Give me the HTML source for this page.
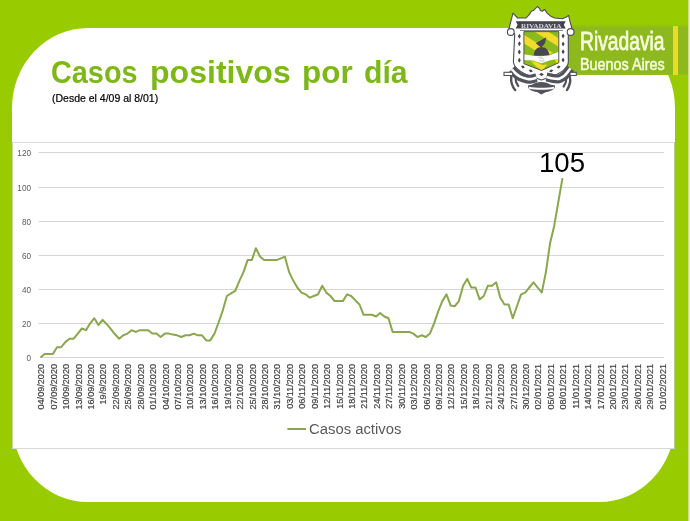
<!DOCTYPE html>
<html><head><meta charset="utf-8">
<style>
html,body{margin:0;padding:0;}
body{width:690px;height:521px;overflow:hidden;background:#99cc00;position:relative;font-family:"Liberation Sans",sans-serif;}
.panel{position:absolute;left:12px;top:28px;width:663px;height:474px;background:#fff;border-radius:76px / 80px;}
.chart{position:absolute;left:12px;top:142px;width:663px;height:307px;background:#fff;border-top:1px solid #d9d9d9;border-bottom:1px solid #d9d9d9;border-left:1px solid #c9d4a0;border-right:1px solid #bccb85;box-sizing:border-box;}
.title{position:absolute;top:54.4px;font-size:32px;font-weight:bold;color:#7eb71a;white-space:nowrap;transform-origin:0 0;line-height:37px;}
.sub{position:absolute;left:52px;top:92.8px;-webkit-text-stroke:0.2px #000;font-size:10.2px;color:#000;white-space:nowrap;line-height:11px;transform-origin:0 0;transform:scaleX(1.03);}
.logobox{position:absolute;left:566px;top:24px;width:122.3px;height:51px;background:linear-gradient(#99cc00 0px,#8db81e 4px,#8db81e 49px,#93c210 51px);}
.ybar{position:absolute;left:672.7px;top:26px;width:5.8px;height:49px;background:#efd826;}
.riv{position:absolute;left:580px;top:25.8px;font-size:25.8px;color:#f6fbdc;white-space:nowrap;line-height:30px;transform-origin:0 0;transform:scaleX(0.746);-webkit-text-stroke:0.8px #f6fbdc;}
.ba{position:absolute;left:580px;top:55.5px;font-size:15.9px;color:#f6fbdc;white-space:nowrap;line-height:18px;transform-origin:0 0;transform:scaleX(0.905);-webkit-text-stroke:0.5px #f6fbdc;}
svg{position:absolute;left:0;top:0;}
.big{position:absolute;left:539.2px;top:148.4px;font-size:26.8px;color:#000;line-height:31px;white-space:nowrap;transform-origin:0 0;transform:scaleX(1.03);}
.leg{position:absolute;left:308.5px;top:420.5px;font-size:14px;color:#595959;line-height:16px;white-space:nowrap;transform-origin:0 0;transform:scaleX(1.06);}
</style></head><body>
<div class="panel"></div>
<div class="chart"></div>
<div class="logobox"></div>
<div class="ybar"></div>
<div class="title" id="title" style="left:50.7px;transform:scaleX(0.901)">Casos</div><div class="title" style="left:149.6px;transform:scaleX(1.002)">positivos</div><div class="title" style="left:301.8px;transform:scaleX(0.982)">por</div><div class="title" style="left:364.1px;transform:scaleX(0.943)">día</div>
<div class="sub" id="sub">(Desde el 4/09 al 8/01)</div>
<div class="riv" id="riv">Rivadavia</div>
<div class="ba" id="ba">Buenos Aires</div>
<svg width="690" height="521" viewBox="0 0 690 521">
<g stroke="#d6d6d6" stroke-width="1"><line x1="39.8" x2="664" y1="357.5" y2="357.5"/><line x1="38.6" x2="664" y1="323.5" y2="323.5"/><line x1="38.6" x2="664" y1="289.5" y2="289.5"/><line x1="38.6" x2="664" y1="255.5" y2="255.5"/><line x1="38.6" x2="664" y1="221.5" y2="221.5"/><line x1="38.6" x2="664" y1="187.5" y2="187.5"/><line x1="38.6" x2="664" y1="152.5" y2="152.5"/></g>
<g font-family="Liberation Sans, sans-serif" font-size="8.2" fill="#595959" style="opacity:0.99"><text x="31" y="360.7" text-anchor="end">0</text><text x="31" y="326.7" text-anchor="end">20</text><text x="31" y="292.7" text-anchor="end">40</text><text x="31" y="258.7" text-anchor="end">60</text><text x="31" y="224.7" text-anchor="end">80</text><text x="31" y="190.7" text-anchor="end">100</text><text x="31" y="155.7" text-anchor="end">120</text></g>
<g font-family="Liberation Sans, sans-serif" font-size="9.1" fill="#404040" stroke="#404040" stroke-width="0.2" style="opacity:0.99"><text transform="translate(44.3,364) rotate(-90)" text-anchor="end">04/09/2020</text><text transform="translate(56.7,364) rotate(-90)" text-anchor="end">07/09/2020</text><text transform="translate(69.1,364) rotate(-90)" text-anchor="end">10/09/2020</text><text transform="translate(81.6,364) rotate(-90)" text-anchor="end">13/09/2020</text><text transform="translate(94.0,364) rotate(-90)" text-anchor="end">16/09/2020</text><text transform="translate(106.4,364) rotate(-90)" text-anchor="end">19/9/2020</text><text transform="translate(118.8,364) rotate(-90)" text-anchor="end">22/09/2020</text><text transform="translate(131.3,364) rotate(-90)" text-anchor="end">25/09/2020</text><text transform="translate(143.7,364) rotate(-90)" text-anchor="end">28/09/2020</text><text transform="translate(156.1,364) rotate(-90)" text-anchor="end">01/10/2020</text><text transform="translate(168.6,364) rotate(-90)" text-anchor="end">04/10/2020</text><text transform="translate(181.0,364) rotate(-90)" text-anchor="end">07/10/2020</text><text transform="translate(193.4,364) rotate(-90)" text-anchor="end">10/10/2020</text><text transform="translate(205.8,364) rotate(-90)" text-anchor="end">13/10/2020</text><text transform="translate(218.3,364) rotate(-90)" text-anchor="end">16/10/2020</text><text transform="translate(230.7,364) rotate(-90)" text-anchor="end">19/10/2020</text><text transform="translate(243.1,364) rotate(-90)" text-anchor="end">22/10/2020</text><text transform="translate(255.6,364) rotate(-90)" text-anchor="end">25/10/2020</text><text transform="translate(268.0,364) rotate(-90)" text-anchor="end">28/10/2020</text><text transform="translate(280.4,364) rotate(-90)" text-anchor="end">31/10/2020</text><text transform="translate(292.9,364) rotate(-90)" text-anchor="end">03/11/2020</text><text transform="translate(305.3,364) rotate(-90)" text-anchor="end">06/11/2020</text><text transform="translate(317.7,364) rotate(-90)" text-anchor="end">09/11/2020</text><text transform="translate(330.1,364) rotate(-90)" text-anchor="end">12/11/2020</text><text transform="translate(342.6,364) rotate(-90)" text-anchor="end">15/11/2020</text><text transform="translate(355.0,364) rotate(-90)" text-anchor="end">18/11/2020</text><text transform="translate(367.4,364) rotate(-90)" text-anchor="end">21/11/2020</text><text transform="translate(379.9,364) rotate(-90)" text-anchor="end">24/11/2020</text><text transform="translate(392.3,364) rotate(-90)" text-anchor="end">27/11/2020</text><text transform="translate(404.7,364) rotate(-90)" text-anchor="end">30/11/2020</text><text transform="translate(417.1,364) rotate(-90)" text-anchor="end">03/12/2020</text><text transform="translate(429.6,364) rotate(-90)" text-anchor="end">06/12/2020</text><text transform="translate(442.0,364) rotate(-90)" text-anchor="end">09/12/2020</text><text transform="translate(454.4,364) rotate(-90)" text-anchor="end">12/12/2020</text><text transform="translate(466.9,364) rotate(-90)" text-anchor="end">15/12/2020</text><text transform="translate(479.3,364) rotate(-90)" text-anchor="end">18/12/2020</text><text transform="translate(491.7,364) rotate(-90)" text-anchor="end">21/12/2020</text><text transform="translate(504.1,364) rotate(-90)" text-anchor="end">24/12/2020</text><text transform="translate(516.6,364) rotate(-90)" text-anchor="end">27/12/2020</text><text transform="translate(529.0,364) rotate(-90)" text-anchor="end">30/12/2020</text><text transform="translate(541.4,364) rotate(-90)" text-anchor="end">02/01/2021</text><text transform="translate(553.9,364) rotate(-90)" text-anchor="end">05/01/2021</text><text transform="translate(566.3,364) rotate(-90)" text-anchor="end">08/01/2021</text><text transform="translate(578.7,364) rotate(-90)" text-anchor="end">11/01/2021</text><text transform="translate(591.1,364) rotate(-90)" text-anchor="end">14/01/2021</text><text transform="translate(603.6,364) rotate(-90)" text-anchor="end">17/01/2021</text><text transform="translate(616.0,364) rotate(-90)" text-anchor="end">20/01/2021</text><text transform="translate(628.4,364) rotate(-90)" text-anchor="end">23/01/2021</text><text transform="translate(640.9,364) rotate(-90)" text-anchor="end">26/01/2021</text><text transform="translate(653.3,364) rotate(-90)" text-anchor="end">29/01/2021</text><text transform="translate(665.7,364) rotate(-90)" text-anchor="end">01/02/2021</text></g>
<polyline points="40.5,357.5 44.6,354.1 48.8,354.1 52.9,354.1 57.0,347.2 61.2,347.2 65.3,342.1 69.5,338.7 73.6,338.7 77.8,333.6 81.9,328.5 86.0,330.2 90.2,323.3 94.3,318.2 98.5,325.0 102.6,319.9 106.8,324.2 110.9,329.1 115.0,334.3 119.2,338.7 123.3,335.3 127.5,333.6 131.6,330.2 135.8,331.9 139.9,330.2 144.0,330.2 148.2,330.2 152.3,333.6 156.5,333.6 160.6,337.0 164.8,333.6 168.9,333.6 173.0,334.6 177.2,335.3 181.3,337.0 185.5,335.3 189.6,335.3 193.8,333.6 197.9,335.3 202.0,335.3 206.2,340.4 210.3,340.4 214.5,333.6 218.6,322.5 222.8,310.3 226.9,296.0 231.0,293.4 235.2,290.9 239.3,281.1 243.5,272.1 247.6,260.1 251.8,260.1 255.9,248.2 260.1,256.7 264.2,260.1 268.3,260.1 272.5,260.1 276.6,260.1 280.8,258.4 284.9,256.7 289.1,272.1 293.2,280.6 297.3,287.5 301.5,292.6 305.6,294.3 309.8,297.7 313.9,296.0 318.1,294.3 322.2,285.7 326.3,292.6 330.5,296.0 334.6,301.1 338.8,301.1 342.9,301.1 347.1,294.3 351.2,296.0 355.3,300.3 359.5,304.5 363.6,314.8 367.8,314.8 371.9,314.8 376.1,316.5 380.2,313.1 384.3,316.5 388.5,318.2 392.6,331.9 396.8,331.9 400.9,331.9 405.1,331.9 409.2,331.9 413.3,333.6 417.5,337.0 421.6,335.3 425.8,337.0 429.9,333.6 434.1,323.3 438.2,311.4 442.3,301.1 446.5,294.3 450.6,305.4 454.8,306.2 458.9,301.1 463.1,285.7 467.2,278.9 471.3,287.5 475.5,287.5 479.6,299.4 483.8,296.0 487.9,285.7 492.1,285.7 496.2,282.3 500.3,297.7 504.5,304.5 508.6,304.5 512.8,318.2 516.9,306.2 521.1,294.3 525.2,292.6 529.3,287.5 533.5,282.3 537.6,287.5 541.8,292.6 545.9,272.1 550.1,243.0 554.2,225.9 558.3,202.0 562.5,178.1" fill="none" stroke="#8aa64e" stroke-width="2" stroke-linejoin="round" stroke-linecap="butt"/>
<line x1="287.4" x2="306" y1="429" y2="429" stroke="#8aa64e" stroke-width="2"/>
<defs>
<clipPath id="shc"><path d="M523.9,31.6 H558.8 V62.7 L541.5,70.5 L523.9,63.7 Z"/></clipPath>
<filter id="soft" x="-5%" y="-5%" width="110%" height="110%"><feGaussianBlur stdDeviation="0.35"/></filter>
</defs>
<g id="crest" filter="url(#soft)">
<path d="M513,13.1 L517.6,18 L526.1,18 L529.4,14.4 L531.3,11.2 L533.9,10.2 L537.3,6.5 L539.8,8.6 L540.2,10.5 L542.2,11.2 L544.8,9.5 L547.1,13.1 L550,15.7 L554.6,18 L562.4,18.7 L566.3,17 L568.6,15.4 L570.2,22.3 L572,28.5 L568.3,34 L568.3,62 C568,68 562,72.5 552,76.5 L541.5,80 L531,76.5 C521,72.5 514,68 513.4,62 L514.7,34 L509,28.5 Z" fill="#fff" stroke="#4c4c57" stroke-width="1.1" stroke-linejoin="round"/>
<circle cx="510.8" cy="32" r="3.4" fill="#fff" stroke="#4c4c57" stroke-width="1.1"/>
<circle cx="570.6" cy="32" r="3.4" fill="#fff" stroke="#4c4c57" stroke-width="1.1"/>
<path d="M515.7,21.3 L565.7,21.3 L563.8,24.8 L565.7,28.5 L515.7,28.5 L517.6,24.8 Z" fill="#3f3f49"/>
<rect x="520.6" y="22.4" width="41.2" height="5.2" fill="#4a4a54"/>
<text x="541.2" y="27.6" font-family="Liberation Serif, serif" font-weight="bold" font-size="7" fill="#d4d4dc" text-anchor="middle" textLength="40.5" lengthAdjust="spacingAndGlyphs">RIVADAVIA</text>
<line x1="520" x2="563" y1="30.5" y2="30.5" stroke="#55555f" stroke-width="0.7"/>
<path d="M523.9,31.6 H558.8 V62.7 L541.5,70.5 L523.9,63.7 Z" fill="#8cba1e"/>
<g clip-path="url(#shc)">
<polygon points="523,34.2 523,42.8 560,66.1 560,57.5" fill="#f1dc2a"/>
<polygon points="530,28.85 543.7,28.85 560,39.1 560,47.75" fill="#f1dc2a"/>
<polygon points="523,54 541.5,56 559,51.5 559,72 523,72" fill="#8cba1e"/>
<polygon points="530.8,61 536.3,62 542.5,65.1 547.4,64.6 542.5,69.9 541.5,70.6 536.3,66.6" fill="#f1dc2a"/>
<polygon points="554.9,59.4 559,58.6 559,62.4 556.5,63" fill="#f1dc2a"/>
<path d="M533.6,55.8 C534,50 537,47 541.5,46.9 C546,47 549,50 549.4,55.8 Z" fill="#46464f"/>
<polygon points="535.7,43.3 546.3,37.3 545.1,43 541.8,47.2 540,46.8" fill="#46464f"/>
<path d="M523.5,54.2 L533,55.8 L541.5,56.2 L549.4,55.2 L559,51.8 L559,58.7 L549.4,60.4 L541.5,63.3 L533,60.4 L523.5,60.1 Z" fill="#fbfbff"/>
<path d="M538.5,57.6 l2,0.4 l1.8,0.2 l1.6,1 M539.5,60.5 l2.5,0.6 l2.5,-0.6" stroke="#8a8a98" stroke-width="0.5" fill="none"/>
</g>
<path d="M523.9,31.6 H558.8 V62.7 L541.5,70.5 L523.9,63.7 Z" fill="none" stroke="#4b4b55" stroke-width="0.9" stroke-linejoin="round"/>
<g fill="#44444e">
<path d="M519.4,33.7 l1.5,2.5 l-1.5,2.5 l-1.5,-2.5z"/>
<path d="M519.4,41.3 l1.5,2.5 l-1.5,2.5 l-1.5,-2.5z"/>
<path d="M519.3,49.4 l1.5,2.5 l-1.5,2.5 l-1.5,-2.5z"/>
<path d="M519.3,57.8 l1.5,2.5 l-1.5,2.5 l-1.5,-2.5z"/>
<path d="M563.1,33.5 l1.5,2.5 l-1.5,2.5 l-1.5,-2.5z"/>
<path d="M563.1,41.6 l1.5,2.5 l-1.5,2.5 l-1.5,-2.5z"/>
<path d="M563.1,49.3 l1.5,2.5 l-1.5,2.5 l-1.5,-2.5z"/>
<path d="M563.1,57.6 l1.5,2.5 l-1.5,2.5 l-1.5,-2.5z"/>
<path d="M521,66 l2.3,-0.6 l1.6,2.2 l-2.3,0.8z"/>
<path d="M528.6,70 l2.5,-0.6 l1.8,2 l-2.5,0.8z"/>
<path d="M541.5,72.8 l2.4,1.6 l-2.4,1.6 l-2.4,-1.6z"/>
<path d="M553.4,70 l-2.5,-0.6 l-1.8,2 l2.5,0.8z"/>
<path d="M560.6,66.2 l-2.3,-0.6 l-1.6,2.2 l2.3,0.8z"/>
</g>
<path d="M546.5,77.0 C547.6,77.2 550.9,78.2 553.0,78.5 C555.1,78.8 557.2,79.1 558.9,78.8 C560.6,78.5 562.1,77.4 563.4,76.5 C564.7,75.6 565.5,74.6 566.7,73.2 C567.9,71.8 569.8,69.1 570.4,68.3" fill="none" stroke="#52525c" stroke-width="9.0" stroke-linecap="butt" stroke-linejoin="round"/>
<path d="M546.5,77.0 C547.6,77.2 550.9,78.2 553.0,78.5 C555.1,78.8 557.2,79.1 558.9,78.8 C560.6,78.5 562.1,77.4 563.4,76.5 C564.7,75.6 565.5,74.6 566.7,73.2 C567.9,71.8 569.8,69.1 570.4,68.3" fill="none" stroke="#fff" stroke-width="2.7" stroke-linecap="butt" stroke-linejoin="round"/>
<path d="M569.6,75.5 C569.7,76.5 570.4,79.6 570.2,81.5 C570.0,83.4 569.1,85.6 568.6,87.0 C568.1,88.4 567.3,89.5 567.0,90.0" fill="none" stroke="#52525c" stroke-width="2.4" stroke-linecap="round" stroke-linejoin="round"/>
<path d="M566.3,77.5 C566.2,78.2 566.2,80.5 565.8,82.0 C565.3,83.5 564.0,85.8 563.6,86.6" fill="none" stroke="#52525c" stroke-width="2.2" stroke-linecap="round" stroke-linejoin="round"/>
<path d="M536.5,77.7 C535.7,77.9 533.0,78.8 531.5,79.0 C530.0,79.2 529.4,79.4 527.4,79.0 C525.4,78.6 521.6,77.4 519.6,76.4 C517.6,75.4 516.5,74.2 515.2,73.0 C513.9,71.8 512.3,69.8 511.7,69.2" fill="none" stroke="#52525c" stroke-width="9.0" stroke-linecap="butt" stroke-linejoin="round"/>
<path d="M536.5,77.7 C535.7,77.9 533.0,78.8 531.5,79.0 C530.0,79.2 529.4,79.4 527.4,79.0 C525.4,78.6 521.6,77.4 519.6,76.4 C517.6,75.4 516.5,74.2 515.2,73.0 C513.9,71.8 512.3,69.8 511.7,69.2" fill="none" stroke="#fff" stroke-width="2.7" stroke-linecap="butt" stroke-linejoin="round"/>
<path d="M511.3,75.8 C511.3,76.8 511.0,79.8 511.3,81.6 C511.6,83.4 512.4,85.4 513.0,86.8 C513.6,88.2 514.8,89.5 515.2,90.0" fill="none" stroke="#52525c" stroke-width="2.4" stroke-linecap="round" stroke-linejoin="round"/>
<path d="M515.7,77.0 C515.8,77.8 515.6,80.1 516.0,81.6 C516.4,83.1 517.9,85.3 518.3,86.1" fill="none" stroke="#52525c" stroke-width="2.2" stroke-linecap="round" stroke-linejoin="round"/>
<rect x="504" y="72.3" width="8.6" height="3.2" fill="#fff" stroke="#52525c" stroke-width="1.1"/>
<rect x="570" y="72.3" width="6.3" height="3.2" fill="#fff" stroke="#52525c" stroke-width="1.1"/>
<path d="M532.5,84.6 C535.5,81.2 547,81.2 550,84.6 L555,85.4 C555.6,88.5 552,91 546,92 L541.4,94.6 L537,92 C531,91 527.4,88.5 528,85.4 Z" fill="#52525c"/>
<path d="M528.8,86.7 C536,88 547,88 554.2,86.7 L553.8,88.8 C547,90.1 536,90.1 529.2,88.8 Z" fill="#fff"/>
</g>

<rect x="688.3" y="0" width="1.7" height="521" fill="#e4e6e0"/>
</svg>
<div class="big" id="big">105</div>
<div class="leg" id="leg">Casos activos</div>
</body></html>
